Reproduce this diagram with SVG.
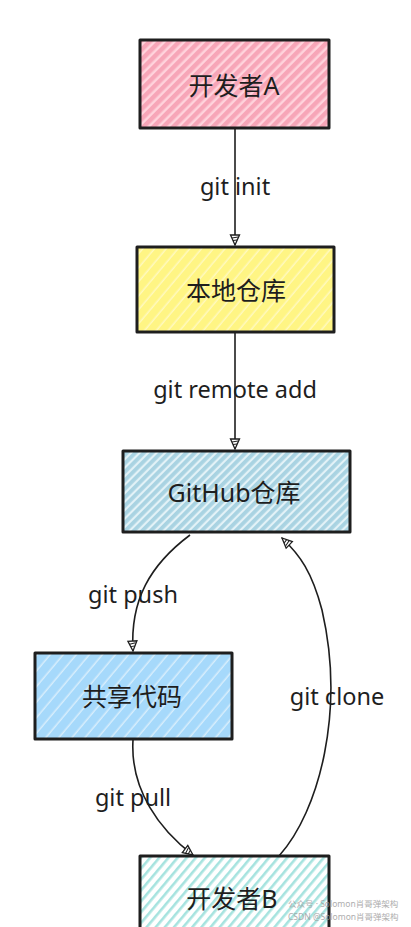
<svg xmlns="http://www.w3.org/2000/svg" width="411" height="927" viewBox="0 0 411 927">
<style>
.box{stroke:#1e1e1e;stroke-width:3;stroke-linejoin:round}
.lbl{font-family:"Noto Sans","Noto Sans CJK SC",sans-serif;font-size:25px;fill:#1e1e1e;text-anchor:middle;dominant-baseline:central}
.edge{fill:none;stroke:#1e1e1e;stroke-width:1.6}
.elbl{font-family:"Noto Sans","Noto Sans CJK SC",sans-serif;font-size:23.5px;fill:#1e1e1e;text-anchor:middle;dominant-baseline:central}
.wm{font-family:"Noto Sans","Noto Sans CJK SC",sans-serif;font-size:8.5px;fill:#9a9a9a;opacity:0.8}
</style>
<defs>
<pattern id="hPink" patternUnits="userSpaceOnUse" width="7" height="7" patternTransform="rotate(-45)"><rect width="7" height="7" fill="#ffd3dc"/><rect width="7" height="4.5" fill="#f7a6b8"/></pattern>
<pattern id="hYellow" patternUnits="userSpaceOnUse" width="9" height="9" patternTransform="rotate(-50)"><rect width="9" height="9" fill="#fff9c0"/><rect width="9" height="7.5" fill="#fff584"/></pattern>
<pattern id="hGit" patternUnits="userSpaceOnUse" width="6" height="6" patternTransform="rotate(-45)"><rect width="6" height="6" fill="#e3f2f7"/><rect width="6" height="3.8" fill="#a9d3e2"/></pattern>
<pattern id="hShare" patternUnits="userSpaceOnUse" width="10" height="10" patternTransform="rotate(-50)"><rect width="10" height="10" fill="#d8eefc"/><rect width="10" height="8.5" fill="#a6d9fb"/></pattern>
<pattern id="hTeal" patternUnits="userSpaceOnUse" width="7" height="7" patternTransform="rotate(-50)"><rect width="7" height="7" fill="#ffffff"/><rect width="7" height="2.6" fill="#a6e3df"/></pattern>
<marker id="arr" viewBox="0 0 12 12" refX="11" refY="6" markerWidth="12" markerHeight="12" markerUnits="userSpaceOnUse" orient="auto"><path d="M1,1.5 L11,6 L1,10.5 Z" fill="#ffffff" stroke="#1e1e1e" stroke-width="1.3"/><path d="M3,3 L4,9 M6,4 L6.5,8" stroke="#1e1e1e" stroke-width="1"/></marker>
</defs>
<rect width="411" height="927" fill="#ffffff"/>
<g id="nodeA"><rect class="box" x="140" y="40" width="189" height="88" fill="url(#hPink)"/><text class="lbl" x="234" y="85">开发者A</text></g>
<g id="nodeLocal"><rect class="box" x="137" y="247" width="197" height="85" fill="url(#hYellow)"/><text class="lbl" x="236" y="290">本地仓库</text></g>
<g id="nodeGitHub"><rect class="box" x="123" y="451" width="227" height="81" fill="url(#hGit)"/><text class="lbl" x="234" y="492">GitHub仓库</text></g>
<g id="nodeShare"><rect class="box" x="35" y="653" width="197" height="86" fill="url(#hShare)"/><text class="lbl" x="132" y="696">共享代码</text></g>
<g id="nodeB"><rect class="box" x="140" y="856" width="189" height="80" fill="url(#hTeal)"/><text class="lbl" x="232" y="898">开发者B</text></g>
<g id="connectors">
<path class="edge" d="M235,129 L235,245" marker-end="url(#arr)"/>
<path class="edge" d="M235,333 L235,449" marker-end="url(#arr)"/>
<path class="edge" d="M190,535 C150,565 130,600 133,651" marker-end="url(#arr)"/>
<path class="edge" d="M133,740 C130,790 160,830 193,855" marker-end="url(#arr)"/>
<path class="edge" d="M279,856 C320,810 345,710 322,610 C312,572 300,555 282,538" marker-end="url(#arr)"/>
<text class="elbl" x="235" y="186">git init</text>
<text class="elbl" x="235" y="389">git remote add</text>
<text class="elbl" x="133" y="594">git push</text>
<text class="elbl" x="133" y="797">git pull</text>
<text class="elbl" x="337" y="696">git clone</text>
</g>
<text class="wm" x="288" y="907">公众号 · Solomon肖哥弹架构</text>
<text class="wm" x="288" y="920">CSDN @Solomon肖哥弹架构</text>
</svg>
